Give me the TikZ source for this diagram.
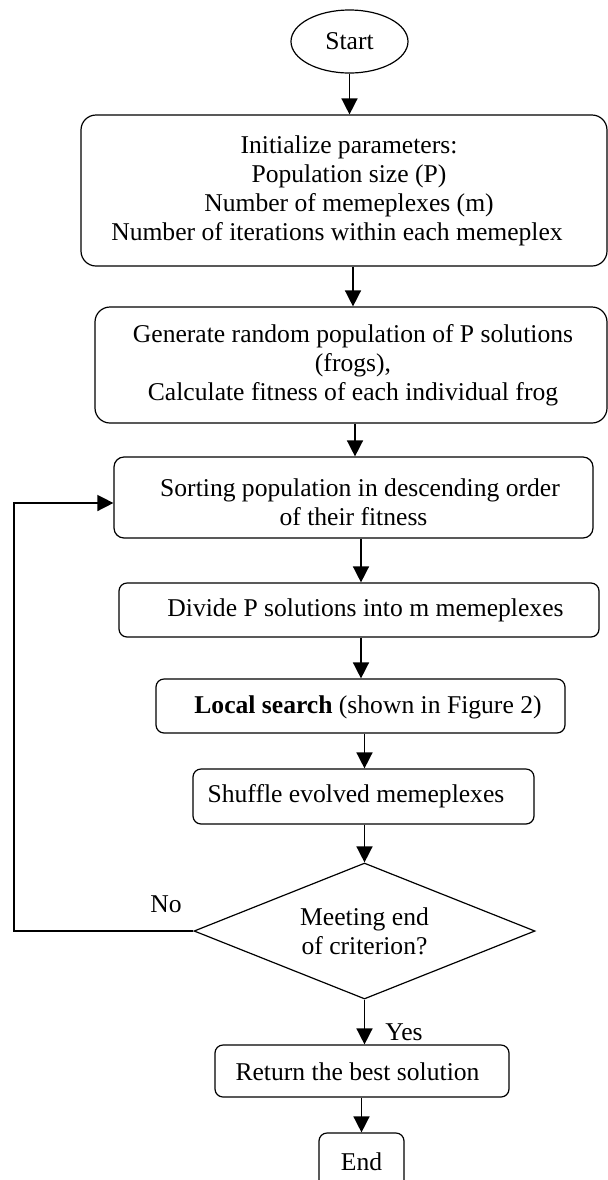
\documentclass[tikz,border=0pt]{standalone}
\usepackage{fontspec}
\setmainfont{Liberation Serif}
\usetikzlibrary{shapes.geometric,arrows.meta}
\begin{document}
\begin{tikzpicture}[x=0.5pt,y=-0.5pt,
  every node/.style={font=\fontsize{12.8}{14.5}\selectfont},
  box/.style={draw, line width=0.6pt, rounded corners=4pt, inner sep=0pt},
  lbl/.style={align=center, inner sep=0pt},
  arr/.style={line width=0.75pt, -{Triangle[length=8pt,width=8pt]}}]
\clip (0,0) rectangle (608,1180);
% nodes
\node[draw, ellipse, line width=0.6pt, minimum width=58.5pt, minimum height=31.5pt, inner sep=0pt] (start) at (349.5,41.5) {Start};
\node[box, rounded corners=7.5pt, minimum width=263pt, minimum height=75.5pt] (init) at (344,190.5) {};
\node[lbl] (initT) at (349,190.5) {Initialize parameters:\\Population size (P)\\Number of memeplexes (m)\\Number of iterations within each memeplex\hspace*{12pt}};
\node[box, rounded corners=7.5pt, minimum width=256pt, minimum height=58pt] (gen) at (351,365) {};
\node[lbl] (genT) at (353,365) {Generate random population of P solutions\\(frogs),\\Calculate fitness of each individual frog};
\node[box, rounded corners=5pt, minimum width=239.5pt, minimum height=40.5pt] (sort) at (353.5,497.5) {};
\node[lbl] (sortT) at (353.5,502) {\hspace*{6.5pt}Sorting population in descending order\\of their fitness};
\node[box, minimum width=240pt, minimum height=27pt] (div) at (359,610) {};
\node[lbl] (divT) at (365.5,610) {Divide P solutions into m memeplexes};
\node[box, minimum width=204.5pt, minimum height=27pt] (loc) at (360.5,706) {};
\node[lbl] (locT) at (368,707) {\textbf{Local search} (shown in Figure 2)};
\node[box, minimum width=170.5pt, minimum height=27.5pt] (shuf) at (363.5,796.5) {};
\node[lbl] (shufT) at (356,796) {Shuffle evolved memeplexes};
\node[draw, diamond, aspect=2.5, line width=0.6pt, minimum width=170.5pt, minimum height=68pt, inner sep=0pt, align=center] (dia) at (364.5,931) {Meeting end\\of criterion?};
\node[box, minimum width=147pt, minimum height=26pt] (ret) at (362,1071) {};
\node[lbl] (retT) at (357.5,1072) {Return the best solution};
\node[box, minimum width=42.5pt, minimum height=29pt] (end) at (361.5,1162) {End};
\node[inner sep=0pt] (no) at (166,904) {No};
\node[inner sep=0pt] (yes) at (404,1032) {Yes};
\coordinate (lp) at (14,503);
% connectors
\draw[arr] (start.south) -- (start.south |- init.north);
\draw[arr] ([xshift=4.5pt]init.south) -- ([xshift=4.5pt]init.south |- gen.north);
\draw[arr] ([xshift=2pt]gen.south) -- ([xshift=2pt]gen.south |- sort.north);
\draw[arr] ([xshift=3.75pt]sort.south) -- ([xshift=3.75pt]sort.south |- div.north);
\draw[arr] ([xshift=1pt]div.south) -- ([xshift=1pt]div.south |- loc.north);
\draw[arr] ([xshift=2pt]loc.south) -- ([xshift=2pt]loc.south |- shuf.north);
\draw[arr] (shuf.south -| dia.north) -- (dia.north);
\draw[arr] (dia.south) -- (dia.south |- ret.north);
\draw[arr] (ret.south -| end.north) -- (end.north);
\draw[arr] (dia.west) -| (lp) -- (lp -| sort.west);
\end{tikzpicture}
\end{document}
